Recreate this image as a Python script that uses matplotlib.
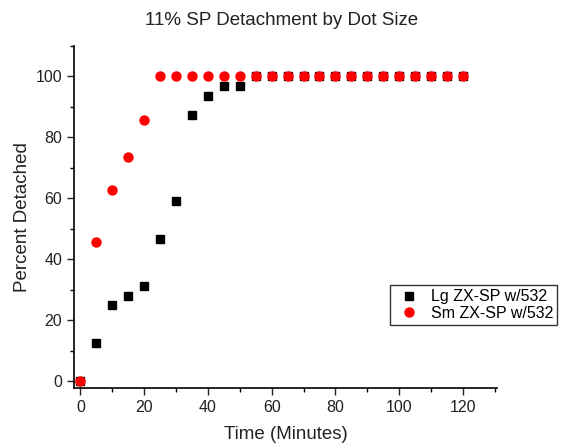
import matplotlib
matplotlib.use("Agg")
import matplotlib.pyplot as plt
from matplotlib.ticker import MultipleLocator

time = [0, 5, 10, 15, 20, 25, 30, 35, 40, 45, 50, 55, 60, 65, 70, 75, 80,
        85, 90, 95, 100, 105, 110, 115, 120]
lg = [0, 12.5, 24.9, 28, 31.3, 46.7, 59.2, 87.4, 93.5, 96.8, 96.8, 100, 100,
      100, 100, 100, 100, 100, 100, 100, 100, 100, 100, 100, 100]
sm = [0, 45.8, 62.7, 73.5, 85.8, 100, 100, 100, 100, 100, 100, 100, 100,
      100, 100, 100, 100, 100, 100, 100, 100, 100, 100, 100, 100]

plt.rcParams['font.family'] = ['Liberation Sans', 'DejaVu Sans']

fig = plt.figure(figsize=(5.63, 4.47), dpi=100)
ax = fig.add_axes([0.1314, 0.132, 0.7514, 0.765])

ax.plot(time, lg, linestyle='none', marker='s', markersize=5.2, color='black',
        label='Lg ZX-SP w/532')
ax.plot(time, sm, linestyle='none', marker='o', markersize=6.5, color='#ff0000',
        markeredgecolor='#ff0000', label='Sm ZX-SP w/532')

ax.set_xlim(-2, 130.7)
ax.set_ylim(-2.3, 110)
ax.xaxis.set_major_locator(MultipleLocator(20))
ax.xaxis.set_minor_locator(MultipleLocator(10))
ax.yaxis.set_major_locator(MultipleLocator(20))
ax.yaxis.set_minor_locator(MultipleLocator(10))
ax.tick_params(which='major', direction='out', length=5, width=1, labelsize=11.5, colors='#222222')
ax.tick_params(which='minor', direction='out', length=3, width=1)
for s in ['top', 'right']:
    ax.spines[s].set_visible(False)
for s in ['left', 'bottom']:
    ax.spines[s].set_linewidth(1.2)

ax.set_xlabel('Time (Minutes)', fontsize=13.5, color='#222222', labelpad=8)
ax.set_ylabel('Percent Detached', fontsize=13.5, color='#222222', labelpad=3)
fig.text(0.5, 0.955, '11% SP Detachment by Dot Size', ha='center', va='center',
         fontsize=13.5, color='#222222')

leg = ax.legend(loc='upper left', bbox_to_anchor=(0.693, 0.362),
                bbox_transform=fig.transFigure, fontsize=11.5, frameon=True,
                fancybox=False, edgecolor='black', borderpad=0.25,
                handletextpad=0.5, labelspacing=0.1, borderaxespad=0,
                handlelength=1.8)
leg.get_frame().set_linewidth(1.0)

fig.savefig('out.png', dpi=100)
